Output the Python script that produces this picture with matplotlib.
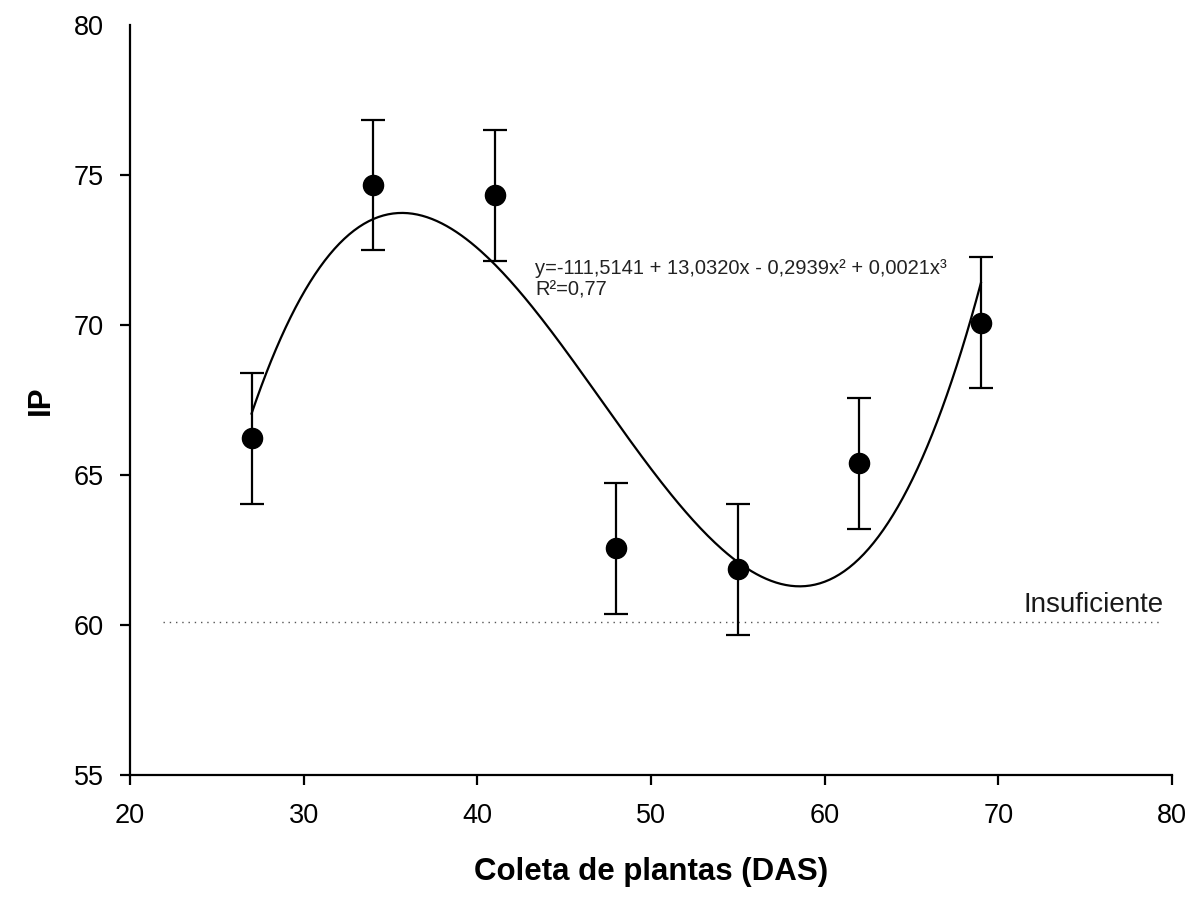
import numpy as np
import matplotlib
matplotlib.use("Agg")
import matplotlib.pyplot as plt

plt.rcParams['font.family'] = ['Liberation Sans', 'DejaVu Sans']

# sampling days (DAS) and mean IP values
das = [27, 34, 41, 48, 55, 62, 69]
ip = [66.23, 74.67, 74.33, 62.56, 61.86, 65.39, 70.08]
ip_err = [2.18, 2.18, 2.18, 2.18, 2.18, 2.18, 2.18]

limit_value = 60.1
limit_label = "Insuficiente"
equation = "y=-111,5141 + 13,0320x - 0,2939x² + 0,0021x³\nR²=0,77"

fig = plt.figure(figsize=(11.96, 8.97), dpi=100)
ax = fig.add_axes([0.1087, 0.136, 0.8712, 0.836])

# cubic regression through the means
coef = np.polyfit(das, ip, 3)
xs = np.linspace(min(das), max(das), 300)
ax.plot(xs, np.polyval(coef, xs), color='black', lw=1.6, zorder=2)

ax.errorbar(das, ip, yerr=ip_err, fmt='o', color='black', ms=14.5,
            elinewidth=1.6, capsize=8.3, capthick=1.6, zorder=3)

ax.plot([21.9, 79.4], [limit_value, limit_value], color='#555555',
        lw=1.0, linestyle=(0, (1, 3.5)), zorder=1)
ax.text(79.5, limit_value + 0.12, limit_label, ha='right', va='bottom',
        fontsize=20, color='#1a1a1a')

ax.text(43.35, 70.85, equation, fontsize=14.5, ha='left', va='bottom',
        linespacing=1.15, color='#222222')

ax.set_xlim(20, 80)
ax.set_ylim(55, 80)
ax.set_xticks([20, 30, 40, 50, 60, 70, 80])
ax.set_yticks([55, 60, 65, 70, 75, 80])
for s in ['top', 'right']:
    ax.spines[s].set_visible(False)
for s in ['left', 'bottom']:
    ax.spines[s].set_linewidth(1.6)
ax.tick_params(direction='out', length=7, width=1.6, labelsize=19.5)
ax.tick_params(axis='x', pad=13)
ax.tick_params(axis='y', pad=12)
ax.yaxis.get_major_ticks()[-1].tick1line.set_visible(False)

ax.set_xlabel("Coleta de plantas (DAS)", fontsize=22.5, fontweight='bold', labelpad=20)
ax.set_ylabel("IP", fontsize=22.5, fontweight='bold', labelpad=13)

fig.savefig("out.png", dpi=100)
